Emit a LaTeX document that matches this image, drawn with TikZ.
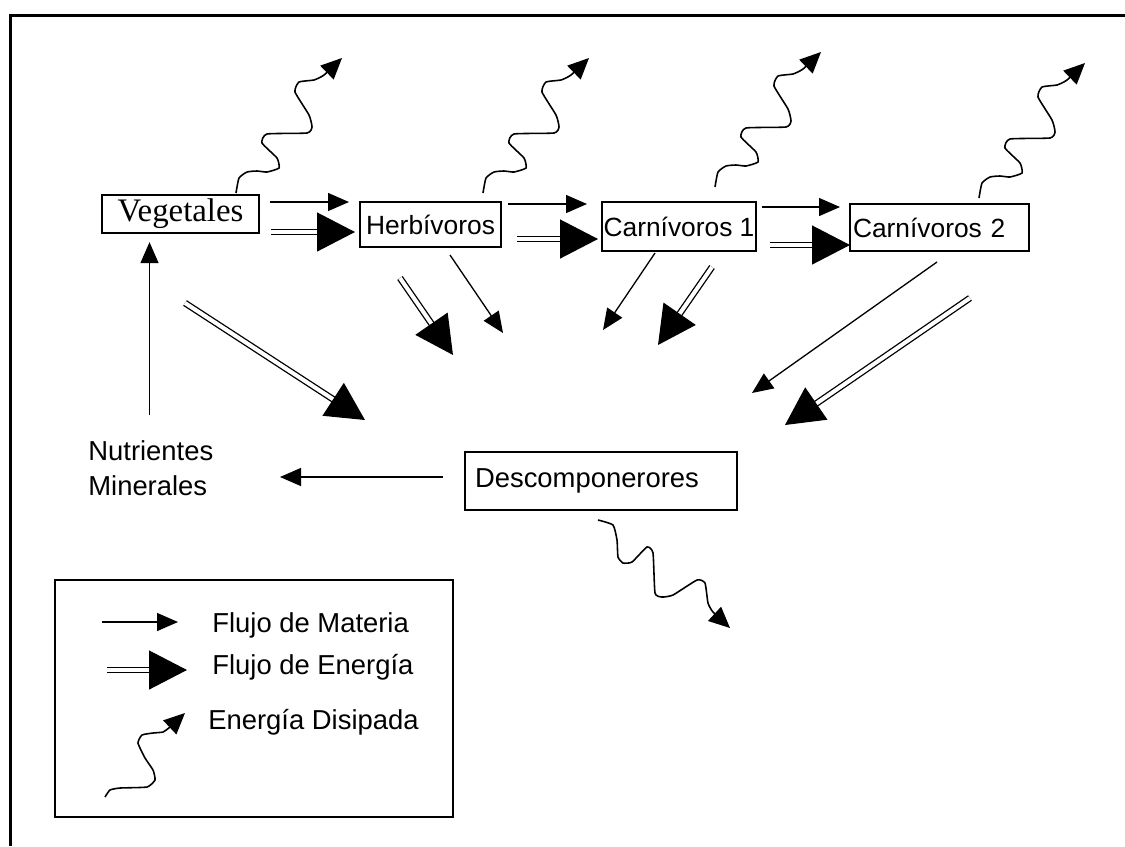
\documentclass[tikz,border=0pt]{standalone}
\usepackage{fontspec}
\setmainfont{Liberation Sans}
\newfontfamily\vegfont{Liberation Serif}
\usetikzlibrary{arrows.meta}
\tikzset{
  box/.style={draw, line width=1.3pt, inner ysep=0pt, font=\fontsize{15pt}{18pt}\selectfont},
  materia/.style={line width=0.75pt, -{Triangle[length=0.42cm,width=0.36cm]}},
  energia/.style={double, line width=0.75pt, double distance=2.3pt, -{Triangle[length=0.76cm,width=0.78cm]}},
  disip/.style={line width=0.9pt, -{Triangle[length=0.42cm,width=0.38cm]}},
  lbl/.style={font=\fontsize{15.6pt}{19.8pt}\selectfont, inner sep=0pt, anchor=west},
  dwave/.pic={\draw[disip] plot[smooth,tension=0.3] coordinates {(0,0) (3,-15) (11,-21) (21,-22) (31,-21) (43,-25) (41,-35) (26,-50) (31,-59) (71,-60) (76,-66) (73,-78) (59,-101) (63,-111) (78,-113) (88,-118) (106,-135)};}
}
\begin{document}
\begin{tikzpicture}[x=0.02cm,y=-0.02cm]
\useasboundingbox (0,0) rectangle (1125,846);
% frame
\draw[line width=1.6pt] (10.5,846) -- (10.5,15.5) -- (1125,15.5);

% boxes
\node[box, minimum width=3.14cm, minimum height=0.76cm, inner xsep=0pt,
      font=\vegfont\fontsize{18.7pt}{20pt}\selectfont] (veg) at (180.5,214) {Vegetales};
\node[box, minimum width=2.82cm, minimum height=0.9cm, inner xsep=0pt] (herb) at (430.5,224.5) {Herbívoros};
\node[box, minimum width=3.08cm, minimum height=0.98cm, inner xsep=0pt] (carn1) at (679,226.5) {Carnívoros 1};
\node[box, text width=3.46cm, inner xsep=0.06cm, align=left, minimum height=0.94cm] (carn2) at (939.5,227.5) {Carnívoros 2};
\node[box, text width=5.04cm, inner xsep=0.2cm, align=left, minimum height=1.16cm, font=\fontsize{15.6pt}{18pt}\selectfont] (desc) at (601,481) {Descomponerores};
\node[lbl, align=left] (nut) at (88,468) {Nutrientes\\Minerales};

% materia flows
\coordinate (m1a) at (270,202); \coordinate (m1b) at (349,202);
\coordinate (m2a) at (508,204); \coordinate (m2b) at (587,204);
\coordinate (m3a) at (762,207); \coordinate (m3b) at (840,207);
\coordinate (m4a) at (450,255); \coordinate (m4b) at (503,333);
\coordinate (m5a) at (655,253); \coordinate (m5b) at (603,330);
\coordinate (m6a) at (937,262); \coordinate (m6b) at (752,393);
\coordinate (nutup) at (149.5,415);
\coordinate (desc-out) at (443,477); \coordinate (nut-in) at (280,477);
\draw[materia] (m1a) -- (m1b);
\draw[materia] (m2a) -- (m2b);
\draw[materia] (m3a) -- (m3b);
\draw[materia] (m4a) -- (m4b);
\draw[materia] (m5a) -- (m5b);
\draw[materia] (m6a) -- (m6b);
\draw[materia, shorten >=0.16cm] (nutup) -- (nutup |- veg.south);
\draw[materia] (desc-out) -- (nut-in);

% energy flows
\coordinate (e1a) at (271,232); \coordinate (e1b) at (355,232);
\coordinate (e2a) at (517,239); \coordinate (e2b) at (598,239);
\coordinate (e3a) at (770,245); \coordinate (e3b) at (850,245);
\coordinate (e4a) at (185,303); \coordinate (e4b) at (365,420);
\coordinate (e5a) at (400,278); \coordinate (e5b) at (453,355);
\coordinate (e6a) at (712,267); \coordinate (e6b) at (658,345);
\coordinate (e7a) at (970,298); \coordinate (e7b) at (785,425);
\draw[energia] (e1a) -- (e1b);
\draw[energia] (e2a) -- (e2b);
\draw[energia] (e3a) -- (e3b);
\draw[energia] (e4a) -- (e4b);
\draw[energia] (e5a) -- (e5b);
\draw[energia] (e6a) -- (e6b);
\draw[energia] (e7a) -- (e7b);

% dissipated energy
\coordinate (w1) at (236,193);
\coordinate (w2) at (483,193);
\coordinate (w3) at (715,187);
\coordinate (w4) at (979,198);
\pic at (w1) {dwave};
\pic at (w2) {dwave};
\pic at (w3) {dwave};
\pic at (w4) {dwave};
\draw[disip] plot[smooth,tension=0.3] coordinates {(598,520) (613,525) (617,540) (618,557) (623,563) (632,562) (647,547) (653,553) (655,593) (662,597) (673,595) (697,580) (705,583) (708,603) (713,612) (730,628)};

% legend
\draw[line width=1.3pt] (55,580) rectangle (453,817);
\coordinate (lm-a) at (102,622); \coordinate (lm-b) at (178,622);
\coordinate (le-a) at (107,670); \coordinate (le-b) at (187,670);
\draw[materia] (lm-a) -- (lm-b);
\draw[energia] (le-a) -- (le-b);
\draw[disip] plot[smooth,tension=0.3] coordinates {(105,797) (110,790) (120,788) (147,787) (155,780) (153,770) (145,758) (138,743) (142,735) (153,733) (163,732) (170,727) (185,713)};
\node[lbl] (lmat) at (212,625) {Flujo de Materia};
\node[lbl] (lene) at (212,667) {Flujo de Energía};
\node[lbl] (ldis) at (208,722) {Energía Disipada};
\end{tikzpicture}
\end{document}
